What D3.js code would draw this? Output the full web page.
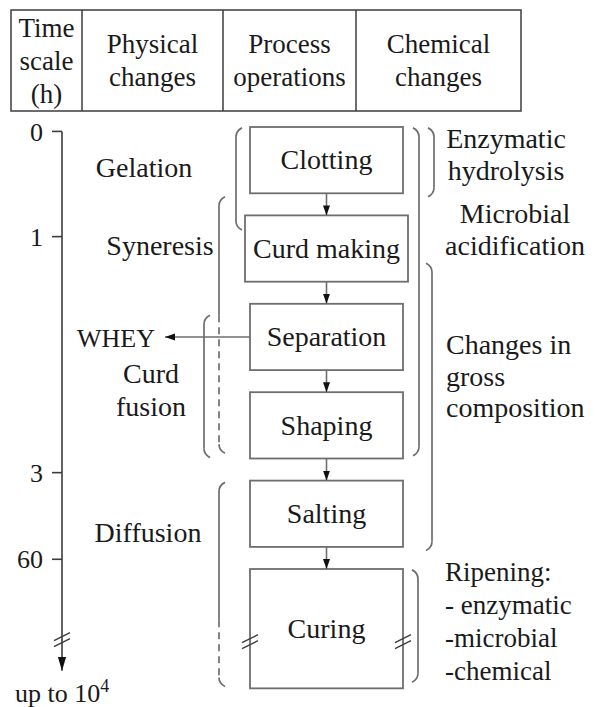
<!DOCTYPE html>
<html>
<head>
<meta charset="utf-8">
<script src="https://cdn.jsdelivr.net/npm/d3@7"></script>
<style>
  body { margin: 0; background: #fff; }
</style>
</head>
<body>
<svg id="chart" width="595" height="707"></svg>
<script>
// header cells
var headers = [["Time", "scale", "(h)"], ["Physical", "changes"], ["Process", "operations"], ["Chemical", "changes"]];

// process operations, sizes in stage units (one stage = one box step)
var steps = ["Clotting", "Curd making", "Separation", "Shaping", "Salting", "Curing"];
var stepSpan = [0.75, 0.75, 0.75, 0.75, 0.75, 1.35];

// time scale (h), stage at which each tick sits
var timeLabels = ["0", "1", "3", "60"];
var timeStage = [0.05, 1.24, 3.91, 4.89];
var timeEnd = 6.15, timeBreak = 5.8;

// physical changes brackets
var physLabels = [["Gelation"], ["Syneresis"], ["Curd", "fusion"], ["Diffusion"]];
var physFrom = [0.01, 0.79, 2.13, 4.02];
var physTo = [1.165, 3.69, 3.74, 6.33];
var physDash = [null, 2.13, null, 5.58];

// chemical changes brackets
var chemLabels = [["Enzymatic", "hydrolysis"], ["Microbial", "acidification"], ["Changes in", "gross", "composition"], ["Ripening:", "- enzymatic", "-microbial", "-chemical"]];
var chemFrom = [0.01, 0.01, 1.54, 5.01];
var chemTo = [0.79, 3.72, 4.79, 6.28];

var svg = d3.select("#chart")
    .attr("font-family", "Liberation Serif, Times New Roman, serif")
    .attr("fill", "#1a1a1a");
var y = d3.scaleLinear().domain([0, 6]).range([127, 657.4]);
var lineCol = "#6e6e6e", axisCol = "#3c3c3c";

var defs = svg.append("defs");
defs.append("marker").attr("id", "head")
    .attr("viewBox", "0 0 10 10").attr("refX", 10).attr("refY", 5)
    .attr("markerWidth", 10).attr("markerHeight", 11).attr("markerUnits", "userSpaceOnUse")
    .attr("orient", "auto")
  .append("path").attr("d", "M0,1.5L10,5L0,8.5Z").attr("fill", "#111");
defs.append("marker").attr("id", "bighead")
    .attr("viewBox", "0 0 10 10").attr("refX", 10).attr("refY", 5)
    .attr("markerWidth", 14).attr("markerHeight", 14).attr("markerUnits", "userSpaceOnUse")
    .attr("orient", "auto")
  .append("path").attr("d", "M0,2L10,5L0,8Z").attr("fill", "#111");

// ---- header table
var colEdges = [11, 82, 223, 356, 521];
svg.append("rect").attr("x", 11).attr("y", 10).attr("width", 510).attr("height", 101)
   .attr("fill", "none").attr("stroke", axisCol).attr("stroke-width", 1.5);
svg.selectAll(".div").data(colEdges.slice(1, 4)).enter().append("line")
   .attr("x1", d => d).attr("x2", d => d).attr("y1", 10).attr("y2", 111)
   .attr("stroke", axisCol).attr("stroke-width", 1.5);
headers.forEach(function(lines, i) {
  var cx = (colEdges[i] + colEdges[i + 1]) / 2;
  var top = 60.5 - (lines.length - 1) * 33 / 2 + 9;
  svg.append("g").selectAll("text").data(lines).enter().append("text")
     .attr("x", cx).attr("y", (d, j) => top + j * 33)
     .attr("text-anchor", "middle").attr("font-size", 27).text(d => d);
});

// ---- time axis
var ax = 62;
svg.append("line").attr("x1", ax).attr("x2", ax)
   .attr("y1", y(timeStage[0])).attr("y2", y(timeEnd))
   .attr("stroke", axisCol).attr("stroke-width", 1.6).attr("marker-end", "url(#bighead)");
var tick = svg.selectAll(".tick").data(timeLabels).enter().append("g")
   .attr("transform", (d, i) => "translate(0," + y(timeStage[i]) + ")");
tick.append("line").attr("x1", ax - 10).attr("x2", ax).attr("stroke", axisCol).attr("stroke-width", 1.6);
tick.append("text").attr("x", 43).attr("dy", "0.35em").attr("text-anchor", "end")
   .attr("font-size", 26).text(d => d);

function breakMark(x, yy) {
  [-3, 3].forEach(function(o) {
    svg.append("line").attr("x1", x - 8).attr("y1", yy + o + 4).attr("x2", x + 8).attr("y2", yy + o - 4)
       .attr("stroke", axisCol).attr("stroke-width", 1.4);
  });
}
breakMark(ax, y(timeBreak));

var up = svg.append("text").attr("x", 15).attr("y", 702).attr("font-size", 26);
up.append("tspan").text("up to 10");
up.append("tspan").attr("dy", -10).attr("font-size", 18).text("4");

// ---- process boxes
var cx = 326.5;
var stepTop = steps.map((d, i) => i);
var boxes = svg.selectAll(".box").data(steps).enter().append("g");
boxes.append("text").attr("x", cx).attr("y", (d, i) => y(stepTop[i] + stepSpan[i] / 2))
   .attr("dy", "0.33em").attr("text-anchor", "middle").attr("font-size", 28).text(d => d);
boxes.each(function(d, i) {
  var g = d3.select(this);
  var w = Math.max(153, g.select("text").node().getComputedTextLength() + 16);
  g.insert("rect", "text").attr("x", cx - w / 2).attr("y", y(stepTop[i]))
   .attr("width", w).attr("height", y(stepSpan[i]) - y(0))
   .attr("fill", "#fff").attr("stroke", lineCol).attr("stroke-width", 1.8);
});
d3.range(steps.length - 1).forEach(function(i) {
  svg.append("line").attr("x1", cx).attr("x2", cx)
     .attr("y1", y(stepTop[i] + stepSpan[i])).attr("y2", y(stepTop[i + 1]))
     .attr("stroke", lineCol).attr("stroke-width", 1.6).attr("marker-end", "url(#head)");
});
var curMid = y(timeBreak) + 2;
breakMark(cx - 76.5, curMid);
breakMark(cx + 76.5, curMid);

// WHEY draining off separation
var sepY = y(stepTop[2] + stepSpan[2] / 2);
svg.append("line").attr("x1", cx - 76.5).attr("x2", 165).attr("y1", sepY).attr("y2", sepY)
   .attr("stroke", lineCol).attr("stroke-width", 1.6).attr("marker-end", "url(#head)");
svg.append("text").attr("x", 155).attr("y", sepY + 10).attr("text-anchor", "end")
   .attr("font-size", 26).text("WHEY");

// ---- brackets
function bracket(x, y0, y1, dir, dashAt) {
  var h = 6 * dir;
  var yd = dashAt == null ? y1 - 9 : dashAt;
  svg.append("path").attr("d", "M" + (x + h) + "," + y0 + "Q" + x + "," + (y0 + 3) + " " + x + "," + (y0 + 9) + "L" + x + "," + yd)
     .attr("fill", "none").attr("stroke", lineCol).attr("stroke-width", 1.7);
  if (dashAt != null) {
    svg.append("line").attr("x1", x).attr("x2", x).attr("y1", yd).attr("y2", y1 - 9)
       .attr("stroke", lineCol).attr("stroke-width", 1.7).attr("stroke-dasharray", "7,5");
  }
  svg.append("path").attr("d", "M" + x + "," + (y1 - 9) + "Q" + x + "," + (y1 - 3) + " " + (x + h) + "," + y1)
     .attr("fill", "none").attr("stroke", lineCol).attr("stroke-width", 1.7);
}

var physX = [236, 219, 204, 219];
var physTextX = [144, 160, 151, 148];
var physAt = [0.566, 1.448, 2.896, 4.695];
physLabels.forEach(function(lines, i) {
  bracket(physX[i], y(physFrom[i]), y(physTo[i]), 1, physDash[i] == null ? null : y(physDash[i]));
  svg.append("g").selectAll("text").data(lines).enter().append("text")
     .attr("x", physTextX[i]).attr("y", (d, j) => y(physAt[i]) + j * 33)
     .attr("text-anchor", "middle").attr("font-size", 28).text(d => d);
});

var chemX = [434, 419, 432, 418];
var chemAt = [0.238, 1.086, 2.568, 5.136];
var chemAnchor = ["middle", "middle", "start", "start"];
var chemTextX = [506, 515, 446, 445];
chemLabels.forEach(function(lines, i) {
  bracket(chemX[i], y(chemFrom[i]), y(chemTo[i]), -1, null);
  svg.append("g").selectAll("text").data(lines).enter().append("text")
     .attr("x", chemTextX[i]).attr("y", (d, j) => y(chemAt[i]) + j * (i == 3 ? 33 : 31.5))
     .attr("text-anchor", chemAnchor[i]).attr("font-size", i == 3 ? 27 : 28).text(d => d);
});
</script>
</body>
</html>
